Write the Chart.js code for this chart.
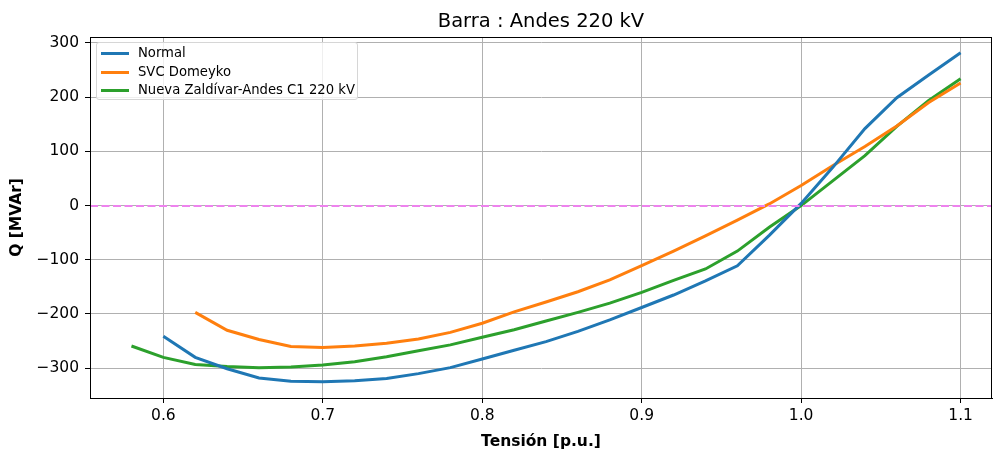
<!DOCTYPE html>
<html>
<head>
<meta charset="utf-8">
<script src="https://cdn.jsdelivr.net/npm/chart.js@4.4.1/dist/chart.umd.min.js"></script>
<style>
  html, body { margin: 0; padding: 0; background: #fff; }
  #wrap { position: relative; width: 993px; height: 451px; }
  #legend {
    position: absolute; left: 96px; top: 42px; width: 262px; height: 58px;
    border: 1px solid #d6d6d6; border-radius: 3px; background: rgba(255,255,255,0.8);
    font-family: "DejaVu Sans", sans-serif; font-size: 13.2px; color: #000;
    box-sizing: border-box; padding-top: 1px;
  }
  #legend .row { position: relative; height: 18.5px; line-height: 18.5px; }
  #legend .swatch { position: absolute; left: 4px; top: 8px; width: 28px; height: 3px; }
  #legend .lbl { position: absolute; left: 41px; top: 0; white-space: nowrap; }
</style>
</head>
<body>
<div id="wrap">
  <canvas id="chart" width="993" height="451"></canvas>
  <div id="legend"></div>
</div>
<script>
// voltage points (p.u.)
const tension = [0.58, 0.60, 0.62, 0.64, 0.66, 0.68, 0.70, 0.72, 0.74, 0.76, 0.78, 0.80, 0.82, 0.84,
                 0.86, 0.88, 0.90, 0.92, 0.94, 0.96, 0.98, 1.00, 1.02, 1.04, 1.06, 1.08, 1.10];

// reactive power Q [MVAr]
const qNormal = [null, -241, -280, -301, -318, -324, -325, -323, -319, -310, -299, -283, -267, -251,
                 -232, -211, -188, -165, -139, -111, -55, 4, 71, 142, 199, 241, 282];
const qSvc = [null, null, -197, -230, -247, -260, -262, -259, -254, -246, -234, -217, -196, -178,
              -159, -137, -111, -84, -56, -27, 3, 37, 74, 109, 147, 190, 226];
const qZaldivar = [-259, -280, -293, -297, -299, -298, -294, -288, -279, -268, -257, -243, -229, -213,
                   -197, -180, -160, -138, -117, -84, -40, 0, 46, 92, 146, 194, 234];

const seriesLabels = ["Normal", "SVC Domeyko", "Nueva Zaldívar-Andes C1 220 kV"];
const xTicks = [0.6, 0.7, 0.8, 0.9, 1.0, 1.1];
const yTicks = [-300, -200, -100, 0, 100, 200, 300];

const colors = ["#1f77b4", "#ff7f0e", "#2ca02c"];
const toPoints = arr => tension.map((v, i) => ({ x: v, y: arr[i] }));

Chart.defaults.font.family = "DejaVu Sans";
Chart.defaults.color = "#000";

// dashed zero line + top/right spines
const extras = {
  id: "extras",
  afterDatasetsDraw(chart) {
    const { ctx, chartArea, scales } = chart;
    const y0 = Math.round(scales.y.getPixelForValue(0));
    ctx.save();
    ctx.strokeStyle = "#ee82ee";
    ctx.lineWidth = 2;
    ctx.setLineDash([8, 3.5]);
    ctx.beginPath();
    ctx.moveTo(chartArea.left, y0);
    ctx.lineTo(chartArea.right, y0);
    ctx.stroke();
    ctx.setLineDash([]);
    ctx.strokeStyle = "#000";
    ctx.lineWidth = 1;
    ctx.strokeRect(chartArea.left + 0.5, chartArea.top + 0.5,
      chartArea.right - chartArea.left - 1, chartArea.bottom - chartArea.top);
    ctx.restore();
  }
};

const chart = new Chart(document.getElementById("chart"), {
  type: "line",
  data: {
    datasets: [qNormal, qSvc, qZaldivar].map((arr, i) => ({
      label: seriesLabels[i],
      data: toPoints(arr),
      borderColor: colors[i],
      backgroundColor: colors[i],
      borderWidth: 3,
      pointRadius: 0,
      tension: 0,
      spanGaps: false
    }))
  },
  options: {
    responsive: false,
    animation: false,
    layout: { padding: { left: 0, right: 1, top: 0, bottom: 0 } },
    plugins: {
      legend: { display: false },
      tooltip: { enabled: false },
      title: {
        display: true,
        text: "Barra : Andes 220 kV",
        fullSize: false,
        font: { size: 19.5, weight: "normal" },
        padding: { top: 10, bottom: 3.6 }
      }
    },
    scales: {
      x: {
        type: "linear",
        min: 0.554,
        max: 1.1197,
        afterBuildTicks: s => { s.ticks = xTicks.map(v => ({ value: v })); },
        afterFit: s => { s.height = 53; },
        ticks: {
          font: { size: 15.5 },
          padding: 4,
          maxRotation: 0,
          callback: v => v.toFixed(1)
        },
        grid: { color: "#b0b0b0", lineWidth: 1, tickColor: "#000", tickLength: 5 },
        border: { display: true, color: "#000", width: 1 },
        title: {
          display: true,
          text: "Tensión [p.u.]",
          font: { size: 15.5, weight: "bold" },
          padding: { top: 0, bottom: 0 }
        }
      },
      y: {
        min: -355,
        max: 311,
        afterBuildTicks: s => { s.ticks = yTicks.map(v => ({ value: v })); },
        afterFit: s => { s.width = 90; },
        ticks: {
          font: { size: 15.5 },
          padding: 6,
          callback: v => (v < 0 ? "\u2212" + Math.abs(v) : String(v))
        },
        grid: { color: "#b0b0b0", lineWidth: 1, tickColor: "#000", tickLength: 5 },
        border: { display: true, color: "#000", width: 1 },
        title: {
          display: true,
          text: "Q [MVAr]",
          font: { size: 15.5, weight: "bold" },
          padding: { top: 8, bottom: 0 }
        }
      }
    }
  },
  plugins: [extras]
});

// legend built from the chart's datasets
const legendEl = document.getElementById("legend");
chart.data.datasets.forEach(ds => {
  const row = document.createElement("div");
  row.className = "row";
  const sw = document.createElement("span");
  sw.className = "swatch";
  sw.style.background = ds.borderColor;
  const lbl = document.createElement("span");
  lbl.className = "lbl";
  lbl.textContent = ds.label;
  row.appendChild(sw);
  row.appendChild(lbl);
  legendEl.appendChild(row);
});
</script>
</body>
</html>
